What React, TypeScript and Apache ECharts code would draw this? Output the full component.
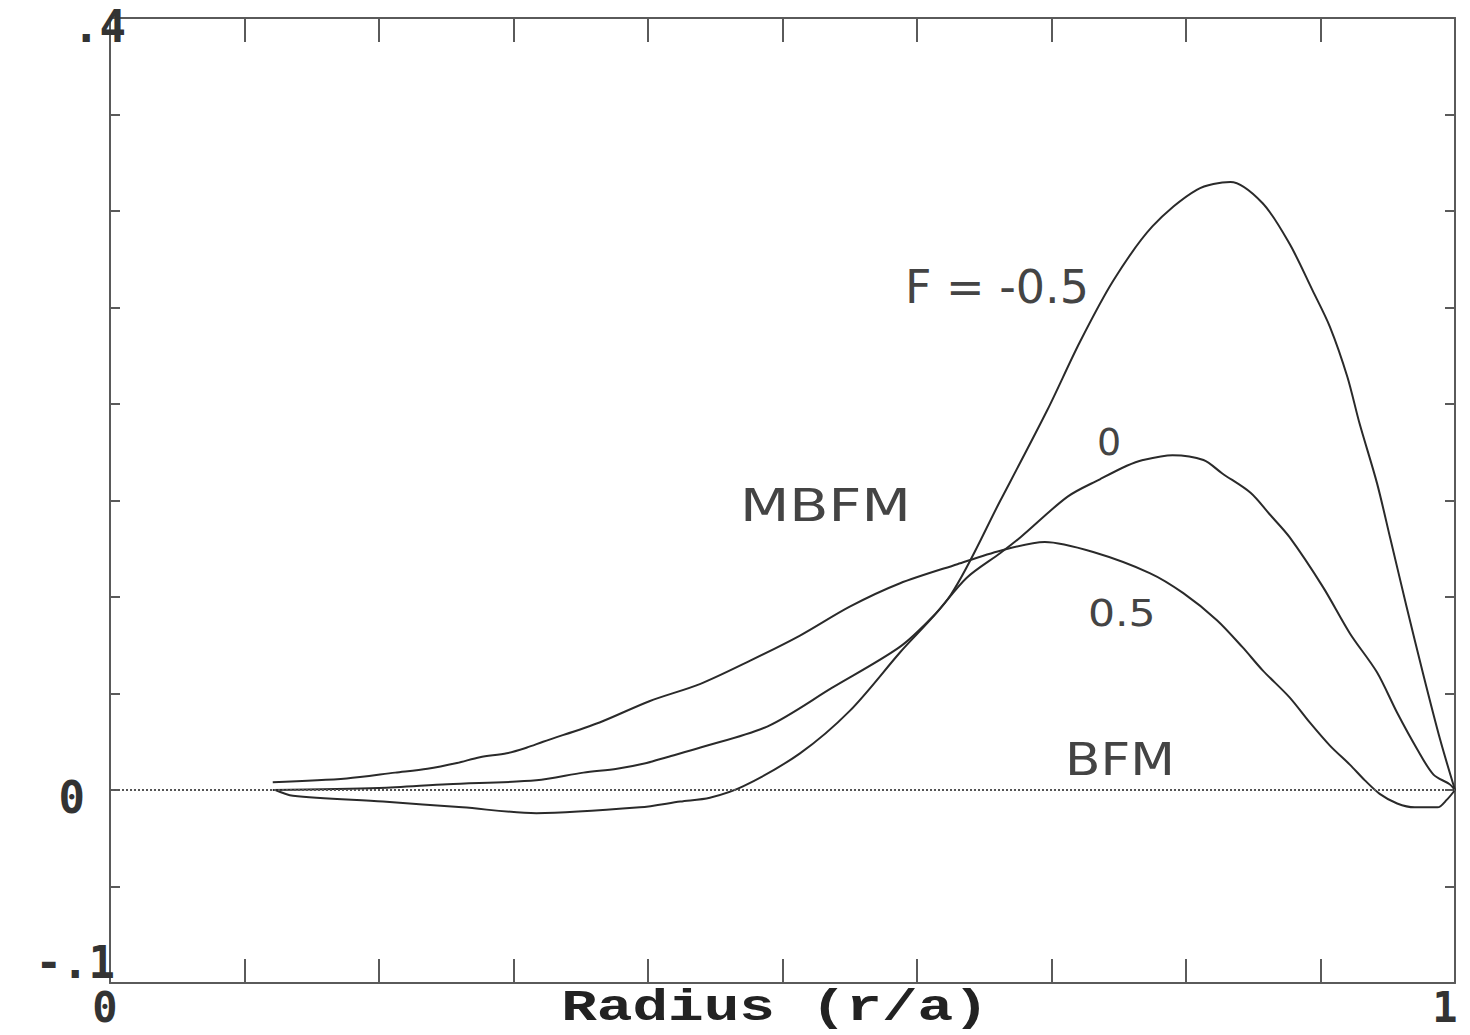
import React, { useEffect, useRef } from "react";
import * as echarts from "echarts";

// Radius (r/a) and normalized values for each curve
const fNeg05X = [0.123, 0.136, 0.203, 0.262, 0.317, 0.394, 0.424, 0.446, 0.471, 0.513, 0.55, 0.587, 0.625, 0.662, 0.697, 0.721, 0.746, 0.775, 0.808, 0.833, 0.857, 0.877, 0.894, 0.907, 0.92, 0.929, 0.942, 0.952, 0.964, 0.976, 0.989, 1.0];
const fNeg05Y = [0, -0.003, -0.006, -0.009, -0.012, -0.009, -0.006, -0.004, 0.002, 0.019, 0.041, 0.071, 0.101, 0.15, 0.197, 0.232, 0.264, 0.292, 0.311, 0.315, 0.304, 0.283, 0.259, 0.24, 0.214, 0.19, 0.159, 0.13, 0.095, 0.061, 0.026, 0];

const f0X = [0.121, 0.2, 0.251, 0.317, 0.352, 0.377, 0.399, 0.414, 0.439, 0.489, 0.537, 0.587, 0.612, 0.637, 0.662, 0.677, 0.712, 0.736, 0.756, 0.768, 0.79, 0.813, 0.827, 0.848, 0.862, 0.877, 0.902, 0.922, 0.942, 0.957, 0.972, 0.984, 0.996, 1.0];
const f0Y = [0, 0.001, 0.003, 0.005, 0.009, 0.011, 0.014, 0.017, 0.022, 0.033, 0.053, 0.074, 0.09, 0.11, 0.1228, 0.131, 0.152, 0.161, 0.168, 0.171, 0.1735, 0.171, 0.164, 0.154, 0.143, 0.131, 0.105, 0.081, 0.061, 0.04, 0.021, 0.008, 0.003, 0];

const f05X = [0.121, 0.176, 0.212, 0.236, 0.258, 0.275, 0.295, 0.31, 0.322, 0.364, 0.401, 0.439, 0.476, 0.513, 0.55, 0.587, 0.63, 0.662, 0.695, 0.731, 0.773, 0.798, 0.823, 0.842, 0.857, 0.877, 0.892, 0.907, 0.922, 0.933, 0.944, 0.957, 0.97, 0.987, 0.994, 1.0];
const f05Y = [0.004, 0.006, 0.009, 0.011, 0.014, 0.017, 0.019, 0.022, 0.025, 0.035, 0.046, 0.055, 0.067, 0.08, 0.095, 0.107, 0.117, 0.124, 0.1285, 0.1233, 0.1124, 0.102, 0.088, 0.074, 0.062, 0.048, 0.035, 0.023, 0.013, 0.005, -0.002, -0.007, -0.009, -0.009, -0.005, 0];

const yLabelValues = [0.4, 0, -0.1];
const yLabelTexts = [".4", "0", "-.1"];
const yLabelStyles = ["a", "b", "c"];
const xLabelValues = [0, 1];
const xLabelTexts = ["0", "1"];
const xLabelStyles = ["p", "q"];
const xAxisTitle = "Radius (r/a)";

const curveLabels = ["F = -0.5", "0", "0.5", "MBFM", "BFM"];

const pair = (xs: number[], ys: number[]) => xs.map((x, i) => [x, ys[i]]);

const labelFont = "'DejaVu Sans Mono', 'Liberation Mono', monospace";
const handFont = "'DejaVu Sans', sans-serif";

export default function App() {
  const ref = useRef<HTMLDivElement>(null);
  useEffect(() => {
    if (!ref.current) return;
    const chart = echarts.init(ref.current, null, { renderer: "svg" });
    const lineColor = "#2a2a2a";
    const axisColor = "#5a5a5a";
    const seriesCommon = {
      type: "line" as const,
      showSymbol: false,
      smooth: 0.3,
      lineStyle: { color: lineColor, width: 2 },
      xAxisIndex: 0,
      yAxisIndex: 0,
    };
    const findIdx = (vals: number[], v: number) => vals.findIndex((t) => Math.abs(t - v) < 1e-6);
    const labelBase = { fontFamily: labelFont, fontWeight: "bold", fontSize: 44, color: "#333" };
    const xLabelBase = { fontFamily: labelFont, fontWeight: "bold", fontSize: 42, lineHeight: 42, color: "#333" };
    chart.setOption({
      animation: false,
      backgroundColor: "#ffffff",
      grid: { left: 110, right: 15, top: 18, bottom: 52, containLabel: false, outerBoundsMode: "none" },
      xAxis: [
        {
          type: "value",
          min: 0,
          max: 1,
          interval: 0.1,
          position: "bottom",
          axisLine: { show: true, onZero: false, lineStyle: { color: axisColor, width: 2 } },
          axisTick: { show: true, inside: true, length: 24, lineStyle: { color: axisColor, width: 2 } },
          splitLine: { show: false },
          axisLabel: {
            show: true,
            margin: 3,
            formatter: (v: number) => {
              const i = findIdx(xLabelValues, v);
              return i >= 0 ? `{${xLabelStyles[i]}|${xLabelTexts[i]}}` : "";
            },
            rich: {
              p: { ...xLabelBase, padding: [0, 10, 0, 0] },
              q: { ...xLabelBase, padding: [0, 20, 0, 0] },
            },
          },
        },
        {
          type: "value",
          min: 0,
          max: 1,
          interval: 0.1,
          position: "top",
          axisLine: { show: true, onZero: false, lineStyle: { color: axisColor, width: 2 } },
          axisTick: { show: true, inside: true, length: 24, lineStyle: { color: axisColor, width: 2 } },
          splitLine: { show: false },
          axisLabel: { show: false },
        },
      ],
      yAxis: [
        {
          type: "value",
          min: -0.1,
          max: 0.4,
          interval: 0.05,
          position: "left",
          axisLine: { show: true, onZero: false, lineStyle: { color: axisColor, width: 2 } },
          axisTick: { show: true, inside: true, length: 10, lineStyle: { color: axisColor, width: 2 } },
          splitLine: { show: false },
          axisLabel: {
            show: true,
            margin: -16,
            formatter: (v: number) => {
              const i = findIdx(yLabelValues, v);
              return i >= 0 ? `{${yLabelStyles[i]}|${yLabelTexts[i]}}` : "";
            },
            rich: {
              a: { ...labelBase, padding: [16, 0, 0, 0] },
              b: { ...labelBase, padding: [14, 41, 0, 0] },
              c: { ...labelBase, padding: [0, 11, 42, 0] },
            },
          },
        },
        {
          type: "value",
          min: -0.1,
          max: 0.4,
          interval: 0.05,
          position: "right",
          axisLine: { show: true, onZero: false, lineStyle: { color: axisColor, width: 2 } },
          axisTick: { show: true, inside: true, length: 10, lineStyle: { color: axisColor, width: 2 } },
          splitLine: { show: false },
          axisLabel: { show: false },
        },
      ],
      series: [
        {
          ...seriesCommon,
          name: "F = -0.5",
          data: pair(fNeg05X, fNeg05Y),
          markLine: {
            silent: true,
            symbol: ["none", "none"],
            label: { show: false },
            lineStyle: { color: "#555", type: "dotted", width: 2 },
            data: [{ yAxis: 0 }],
          },
        },
        { ...seriesCommon, name: "F = 0", data: pair(f0X, f0Y) },
        { ...seriesCommon, name: "F = 0.5", data: pair(f05X, f05Y) },
      ],
      graphic: [
        {
          type: "text",
          x: 775,
          y: 1008,
          scaleX: 1.35,
          style: { text: xAxisTitle, fill: "#222", font: `bold 44px 'Liberation Mono', monospace`, align: "center", verticalAlign: "middle", textAlign: "center", textVerticalAlign: "middle" },
        },
        {
          type: "text",
          x: 905,
          y: 287,
          style: { text: curveLabels[0], fill: "#444", font: `normal 46px ${handFont}`, align: "left", verticalAlign: "middle", textAlign: "left", textVerticalAlign: "middle" },
        },
        {
          type: "text",
          x: 1097,
          y: 442,
          style: { text: curveLabels[1], fill: "#444", font: `normal 38px ${handFont}`, align: "left", verticalAlign: "middle", textAlign: "left", textVerticalAlign: "middle" },
        },
        {
          type: "text",
          x: 1088,
          y: 613,
          scaleX: 1.15,
          style: { text: curveLabels[2], fill: "#444", font: `normal 37px ${handFont}`, align: "left", verticalAlign: "middle", textAlign: "left", textVerticalAlign: "middle" },
        },
        {
          type: "text",
          x: 740,
          y: 506,
          scaleX: 1.3,
          style: { text: curveLabels[3], fill: "#444", font: `normal 44px ${handFont}`, align: "left", verticalAlign: "middle", textAlign: "left", textVerticalAlign: "middle" },
        },
        {
          type: "text",
          x: 1065,
          y: 759,
          scaleX: 1.15,
          style: { text: curveLabels[4], fill: "#444", font: `normal 45px ${handFont}`, align: "left", verticalAlign: "middle", textAlign: "left", textVerticalAlign: "middle" },
        },
      ],
    });
    return () => chart.dispose();
  }, []);
  return (
    <div
      ref={ref}
      style={{ position: "fixed", left: 0, top: 0, width: 1470, height: 1035, background: "#fff" }}
    />
  );
}
